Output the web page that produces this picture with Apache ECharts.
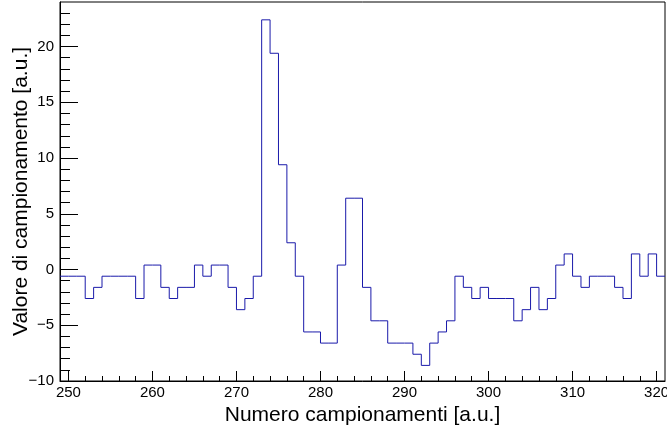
<!DOCTYPE html>
<html>
<head>
<meta charset="utf-8">
<script src="https://cdn.jsdelivr.net/npm/echarts@6/dist/echarts.min.js"></script>
<style>
  html, body { margin: 0; padding: 0; background: #ffffff; }
  #chart { width: 667px; height: 430px; }
</style>
</head>
<body>
<div id="chart"></div>
<script>
// Bin low edges (one bin per sample), plus the upper edge of the last bin
const binEdges = [
  249, 250, 251, 252, 253, 254, 255, 256, 257, 258,
  259, 260, 261, 262, 263, 264, 265, 266, 267, 268,
  269, 270, 271, 272, 273, 274, 275, 276, 277, 278,
  279, 280, 281, 282, 283, 284, 285, 286, 287, 288,
  289, 290, 291, 292, 293, 294, 295, 296, 297, 298,
  299, 300, 301, 302, 303, 304, 305, 306, 307, 308,
  309, 310, 311, 312, 313, 314, 315, 316, 317, 318,
  319, 320, 321
];

// Sampled value in each bin
const binValues = [
  -0.6, -0.6, -0.6, -2.6, -1.6, -0.6, -0.6, -0.6, -0.6, -2.6,
   0.4,  0.4, -1.6, -2.6, -1.6, -1.6,  0.4, -0.6,  0.4,  0.4,
  -1.6, -3.6, -2.6, -0.6, 22.4, 19.4,  9.4,  2.4, -0.6, -5.6,
  -5.6, -6.6, -6.6,  0.4,  6.4,  6.4, -1.6, -4.6, -4.6, -6.6,
  -6.6, -6.6, -7.6, -8.6, -6.6, -5.6, -4.6, -0.6, -1.6, -2.6,
  -1.6, -2.6, -2.6, -2.6, -4.6, -3.6, -1.6, -3.6, -2.6,  0.4,
   1.4, -0.6, -1.6, -0.6, -0.6, -0.6, -1.6, -2.6,  1.4, -0.6,
   1.4, -0.6
];

// Axis tick labels
const xTickLabels = [250, 260, 270, 280, 290, 300, 310, 320];
const yTickLabels = [-10, -5, 0, 5, 10, 15, 20];

const xRange = [249, 321];
const yRange = [-10, 24];

// Minor tick positions: every 2 units on x, every unit on y
const xMinor = [];
for (let v = 250; v <= 320; v += 2) if (v % 10 !== 0) xMinor.push(v);
const yMinor = [];
for (let v = -10; v <= 23; v += 1) if (v % 5 !== 0) yMinor.push(v);

// Step histogram: each bin value held from its low edge to the next edge
const histData = binValues.map((v, i) => [binEdges[i], v]);
histData.push([binEdges[binEdges.length - 1], binValues[binValues.length - 1]]);

const FONT = '"Liberation Sans", Arial, Helvetica, sans-serif';
const minusSign = v => String(v).replace('-', '\u2212');

const chart = echarts.init(document.getElementById('chart'), null, { renderer: 'canvas' });

chart.setOption({
  animation: false,
  backgroundColor: '#ffffff',
  grid: {
    left: 60, right: 2, top: 2, bottom: 49,
    containLabel: false,
    outerBoundsMode: 'none',
    show: true, borderColor: '#000000', borderWidth: 1,
    backgroundColor: 'transparent'
  },
  xAxis: [
    {
      type: 'value', min: xRange[0], max: xRange[1], position: 'bottom',
      name: 'Numero campionamenti [a.u.]',
      nameLocation: 'middle', nameGap: 24, nameMoveOverlap: false,
      nameTextStyle: { fontFamily: FONT, fontSize: 21, color: '#000000' },
      axisLine: { show: true, onZero: false, lineStyle: { color: '#000000', width: 1 } },
      axisTick: { show: true, inside: true, length: 10, customValues: xTickLabels,
        lineStyle: { color: '#000000', width: 1 } },
      axisLabel: { show: true, customValues: xTickLabels, margin: 4,
        fontFamily: FONT, fontSize: 15, color: '#000000' },
      splitLine: { show: false }
    },
    {
      type: 'value', min: xRange[0], max: xRange[1], position: 'bottom',
      axisLine: { show: false, onZero: false },
      axisTick: { show: true, inside: true, length: 5, customValues: xMinor,
        lineStyle: { color: '#000000', width: 1 } },
      axisLabel: { show: false },
      splitLine: { show: false }
    }
  ],
  yAxis: [
    {
      type: 'value', min: yRange[0], max: yRange[1], position: 'left',
      name: 'Valore di campionamento [a.u.]',
      nameLocation: 'middle', nameGap: 28, nameRotate: 90, nameMoveOverlap: false,
      nameTextStyle: { fontFamily: FONT, fontSize: 21, color: '#000000' },
      axisLine: { show: true, onZero: false, lineStyle: { color: '#000000', width: 1 } },
      axisTick: { show: true, inside: true, length: 18, customValues: yTickLabels,
        lineStyle: { color: '#000000', width: 1 } },
      axisLabel: { show: true, customValues: yTickLabels, margin: 6,
        fontFamily: FONT, fontSize: 15, color: '#000000', formatter: minusSign },
      splitLine: { show: false }
    },
    {
      type: 'value', min: yRange[0], max: yRange[1], position: 'left',
      axisLine: { show: false, onZero: false },
      axisTick: { show: true, inside: true, length: 10, customValues: yMinor,
        lineStyle: { color: '#000000', width: 1 } },
      axisLabel: { show: false },
      splitLine: { show: false }
    }
  ],
  series: [
    {
      type: 'line',
      xAxisIndex: 0, yAxisIndex: 0,
      data: histData,
      step: 'end',
      showSymbol: false,
      symbol: 'none',
      clip: true,
      lineStyle: { color: '#1a1aaa', width: 1 }
    }
  ]
});
</script>
</body>
</html>
